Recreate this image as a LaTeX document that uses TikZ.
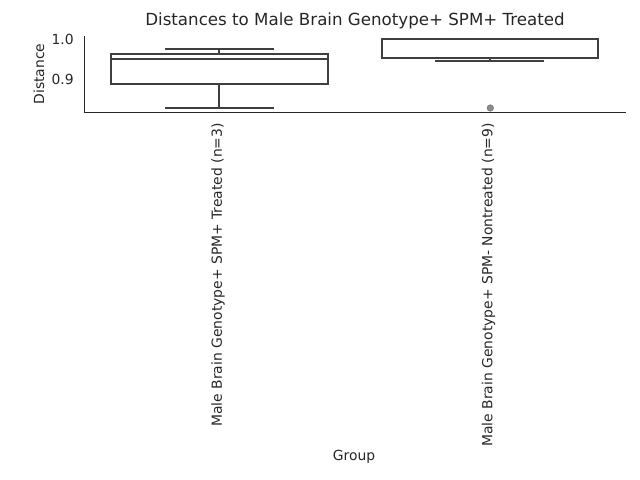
\documentclass[tikz,border=0pt]{standalone}
\usepackage{fontspec}
\setmainfont{DejaVu Sans}
\definecolor{txt}{HTML}{262626}
\definecolor{boxline}{HTML}{3F3F3F}
\definecolor{flier}{HTML}{8C8C8C}
\tikzset{
    whisk/.style={draw=boxline,line width=1.5bp},
    tick/.style={font=\fontsize{10bp}{12bp}\selectfont,text=txt,inner sep=0pt}
}
\begin{document}
\begin{tikzpicture}[x=0.72bp,y=-0.72bp,line cap=butt]
            \useasboundingbox (0,0) rectangle (640,480);
            \node[font=\fontsize{12bp}{14bp}\selectfont,text=txt] (title) at (355,21) {Distances to Male Brain Genotype+ SPM+ Treated};
            % axes
            \draw[txt,line width=1bp] (84.3,36) -- (84.3,112.3) -- (626,112.3);
            \node[tick,anchor=east] (t10) at (74,39.5) {1.0};
            \node[tick,anchor=east] (t09) at (74,79) {0.9};
            \node[tick,rotate=90] (ylab) at (39,74) {Distance};
            % treated
            \draw[whisk] (219.4,54) -- (219.4,49) (165,49) -- (274,49) (219.4,84) -- (219.4,107.7) (165,107.7) -- (274,107.7);
            \draw[whisk,fill=white] (110.7,54) rectangle (328,84);
            \draw[whisk] (110.7,59.3) -- (328,59.3);
            % nontreated
            \draw[whisk] (490,57.7) -- (490,60.7) (435,60.7) -- (544,60.7);
            \draw[whisk,fill=white] (381.7,39) rectangle (598.3,57.7);
            \fill[flier,draw=flier!80!black,line width=.3bp] (490.3,108) circle (3.3);
            % labels
            \node[tick,rotate=90,anchor=east] (g1) at (218,123) {Male Brain Genotype+ SPM+ Treated (n=3)};
            \node[tick,rotate=90,anchor=east] (g2) at (488.5,123) {Male Brain Genotype+ SPM- Nontreated (n=9)};
            \node[tick] (xlab) at (354,457) {Group};
\end{tikzpicture}
\end{document}
